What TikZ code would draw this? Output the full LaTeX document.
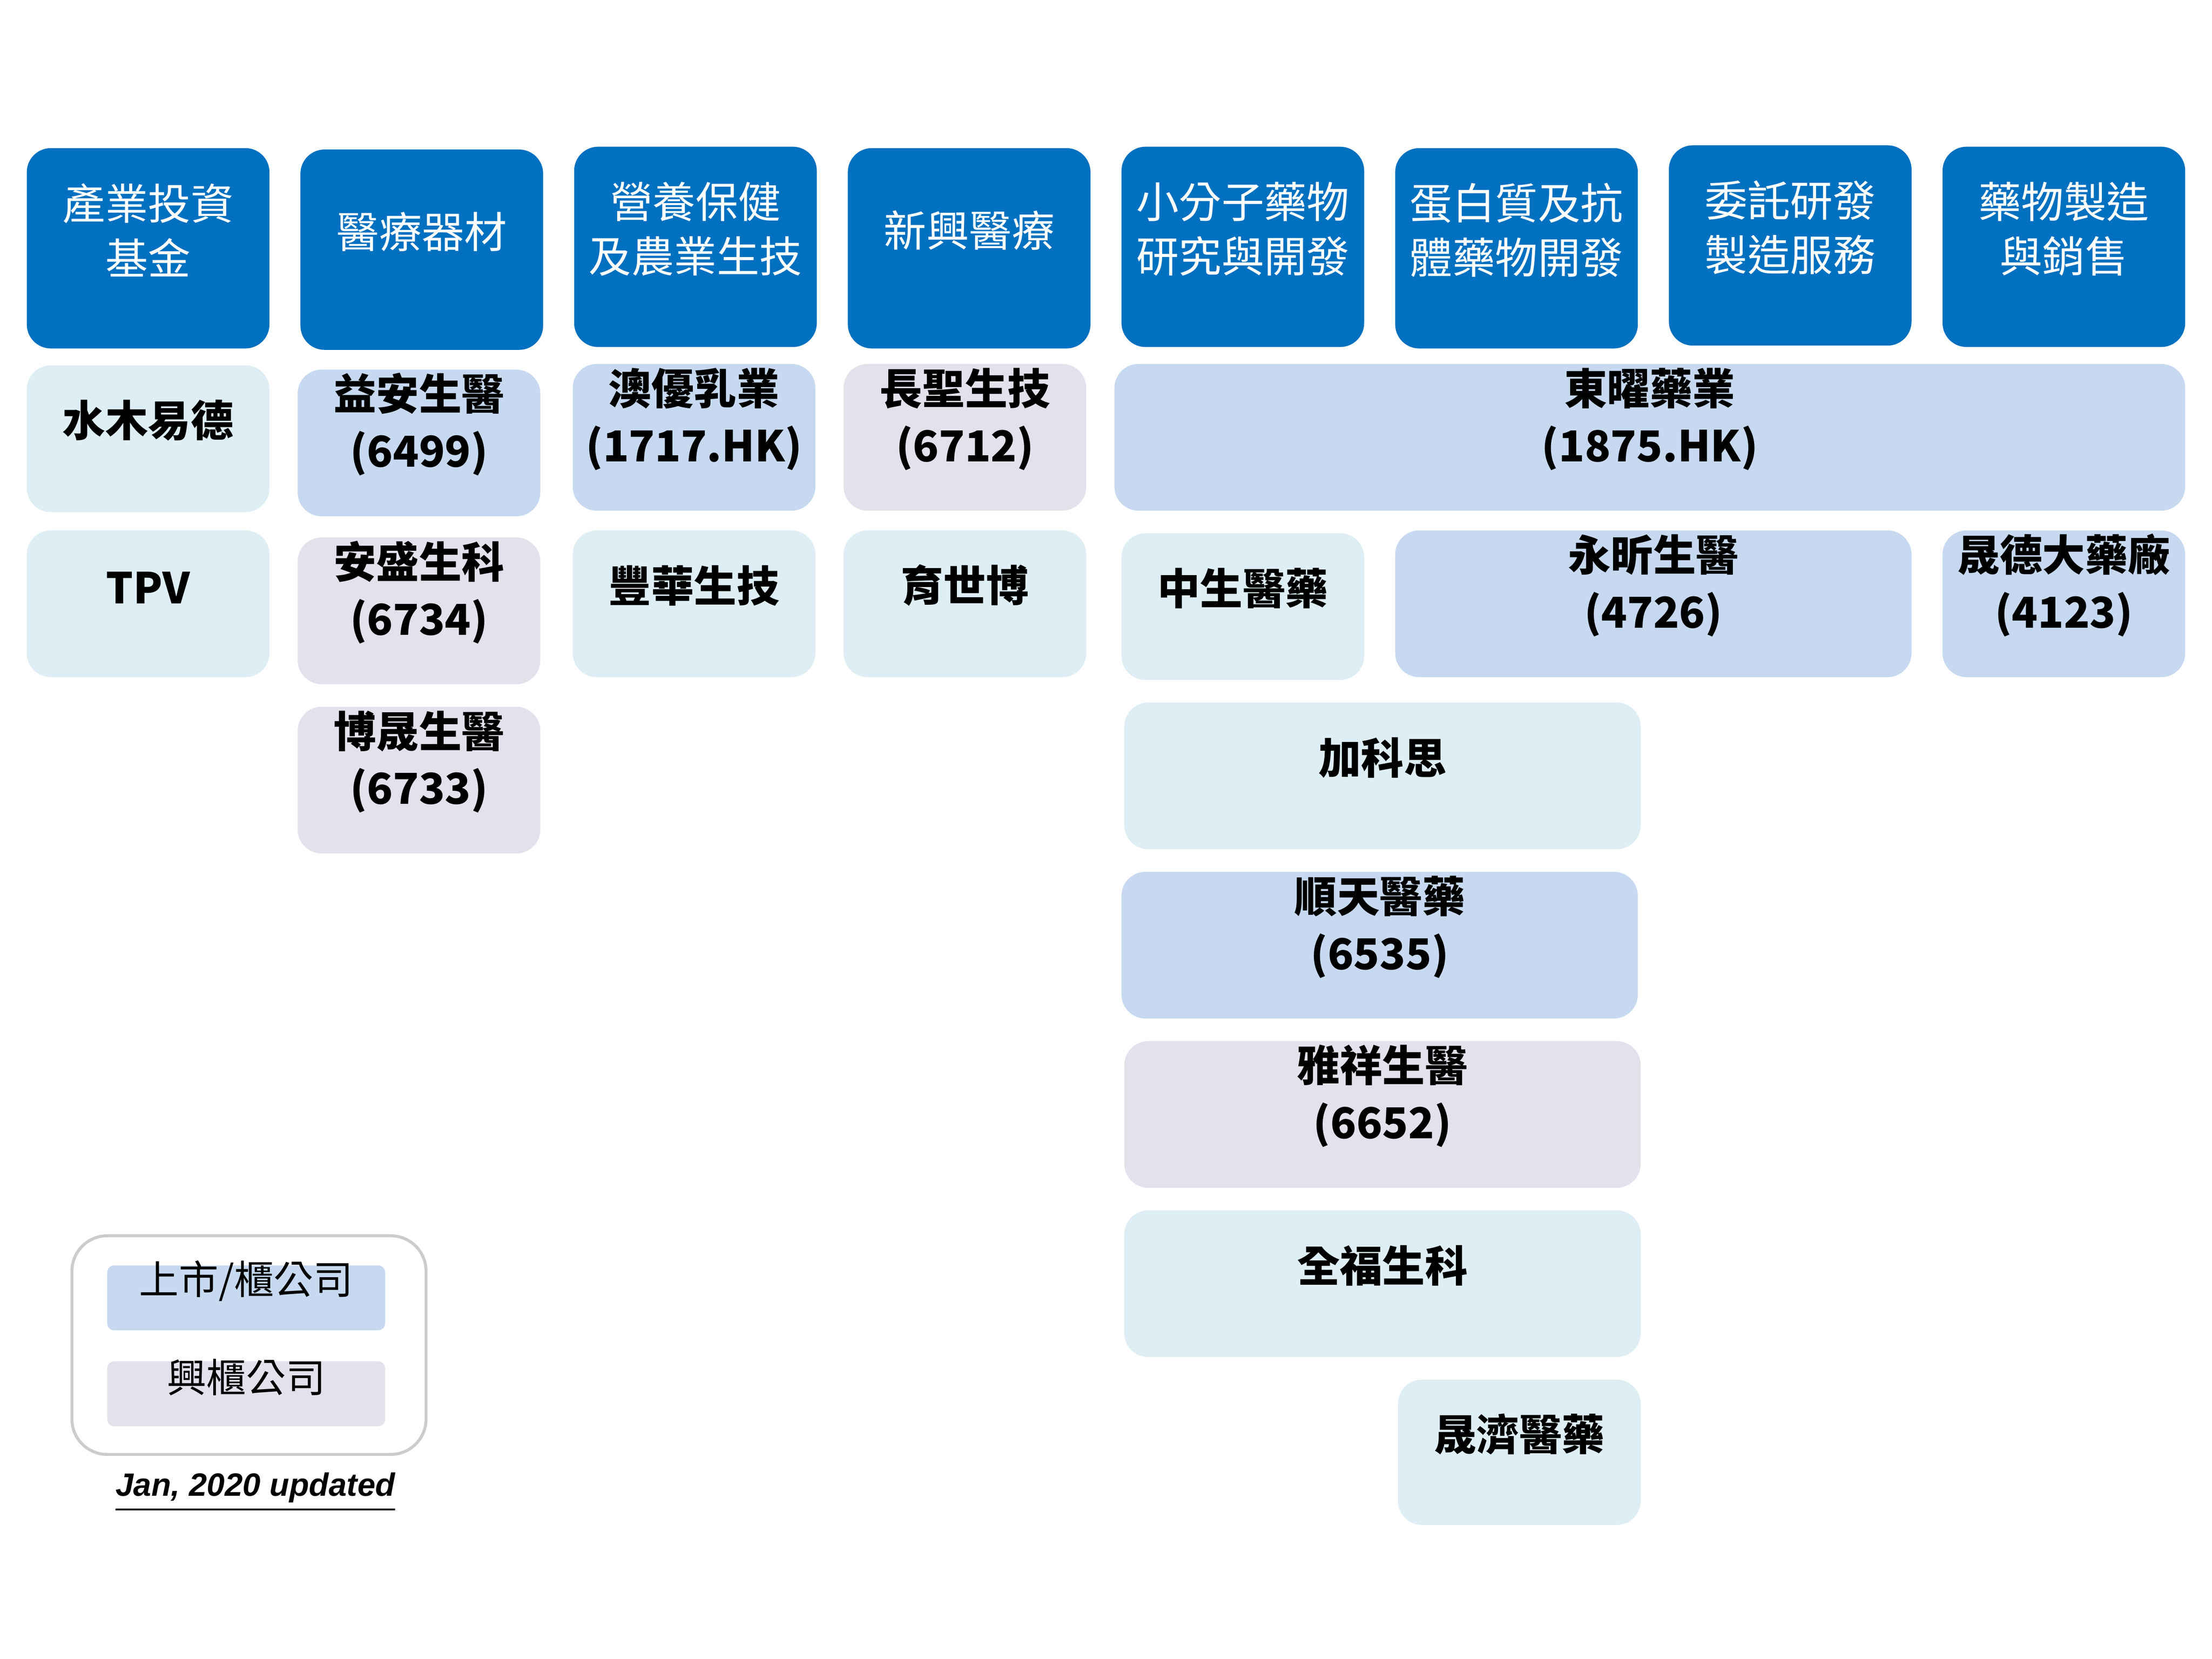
\documentclass[tikz,border=0pt]{standalone}
\usepackage{fontspec}
\setmainfont{Liberation Sans}
\newfontfamily\cjk{Noto Sans CJK TC}
\usetikzlibrary{fit}
\definecolor{hb}{HTML}{0070C0}
\definecolor{lb}{HTML}{C6D9F0}
\definecolor{lp}{HTML}{E4E0EC}
\definecolor{lc}{HTML}{DDEEF4}
\begin{document}
\begin{tikzpicture}[x=0.01cm,y=-0.01cm,
 bx/.style={inner sep=0pt,rounded corners=0.17cm,align=center,font=\cjk\bfseries\fontsize{8.6}{11.5}\selectfont,text=black},
 hd/.style={bx,fill=hb,text=white,font=\cjk\fontsize{8.6}{11}\selectfont},
 B/.style={bx,fill=lb},P/.style={bx,fill=lp},C/.style={bx,fill=lc}]
\useasboundingbox (0,0) rectangle (1568,1176);
\newcommand\bx[6]{\node[#5,fit={(#1,#2)(#3,#4)}] {#6};}
% headers
\bx{19}{105}{191}{247}{hd,name=h1}{產業投資\\基金}
\bx{213}{106}{385}{248}{hd,name=h2}{醫療器材}
\bx{407}{104}{579}{246}{hd,name=h3}{營養保健\\及農業生技}
\bx{601}{105}{773}{247}{hd,name=h4}{新興醫療}
\bx{795}{104}{967}{246}{hd,name=h5}{小分子藥物\\研究與開發}
\bx{989}{105}{1161}{247}{hd,name=h6}{蛋白質及抗\\體藥物開發}
\bx{1183}{103}{1355}{245}{hd,name=h7}{委託研發\\製造服務}
\bx{1377}{104}{1549}{246}{hd,name=h8}{藥物製造\\與銷售}
% row 2
\bx{19}{259}{191}{363}{C,name=a1}{水木易德}
\bx{211}{262}{383}{366}{B,name=a2}{益安生醫\\(6499)}
\bx{406}{258}{578}{362}{B,name=a3}{澳優乳業\\(1717.HK)}
\bx{598}{258}{770}{362}{P,name=a4}{長聖生技\\(6712)}
\bx{790}{258}{1549}{362}{B,name=a5}{東曜藥業\\(1875.HK)}
% row 3
\bx{19}{376}{191}{480}{C,name=b1}{TPV}
\bx{211}{381}{383}{485}{P,name=b2}{安盛生科\\(6734)}
\bx{406}{376}{578}{480}{C,name=b3}{豐華生技}
\bx{598}{376}{770}{480}{C,name=b4}{育世博}
\bx{795}{378}{967}{482}{C,name=b5}{中生醫藥}
\bx{989}{376}{1355}{480}{B,name=b6}{永昕生醫\\(4726)}
\bx{1377}{376}{1549}{480}{B,name=b7}{晟德大藥廠\\(4123)}
% lower
\bx{211}{501}{383}{605}{P,name=c2}{博晟生醫\\(6733)}
\bx{797}{498}{1163}{602}{C,name=c5}{加科思}
\bx{795}{618}{1161}{722}{B,name=d5}{順天醫藥\\(6535)}
\bx{797}{738}{1163}{842}{P,name=e5}{雅祥生醫\\(6652)}
\bx{797}{858}{1163}{962}{C,name=f5}{全福生科}
\bx{991}{978}{1163}{1081}{C,name=g5}{晟濟醫藥}
% legend
\node[draw=black!20,line width=0.6pt,rounded corners=0.25cm,inner sep=0pt,fit={(51,876)(302,1031)},name=lg]{};
\node[B,rounded corners=0.05cm,fit={(76,897)(273,943)},font=\cjk\fontsize{8}{10}\selectfont,name=l1]{上市/櫃公司};
\node[P,rounded corners=0.05cm,fit={(76,965)(273,1011)},font=\cjk\fontsize{8}{10}\selectfont,name=l2]{興櫃公司};
\node[font=\bfseries\itshape\fontsize{6.5}{8}\selectfont,name=dt] at (181,1058) {\underline{Jan, 2020 updated}};
\end{tikzpicture}
\end{document}
